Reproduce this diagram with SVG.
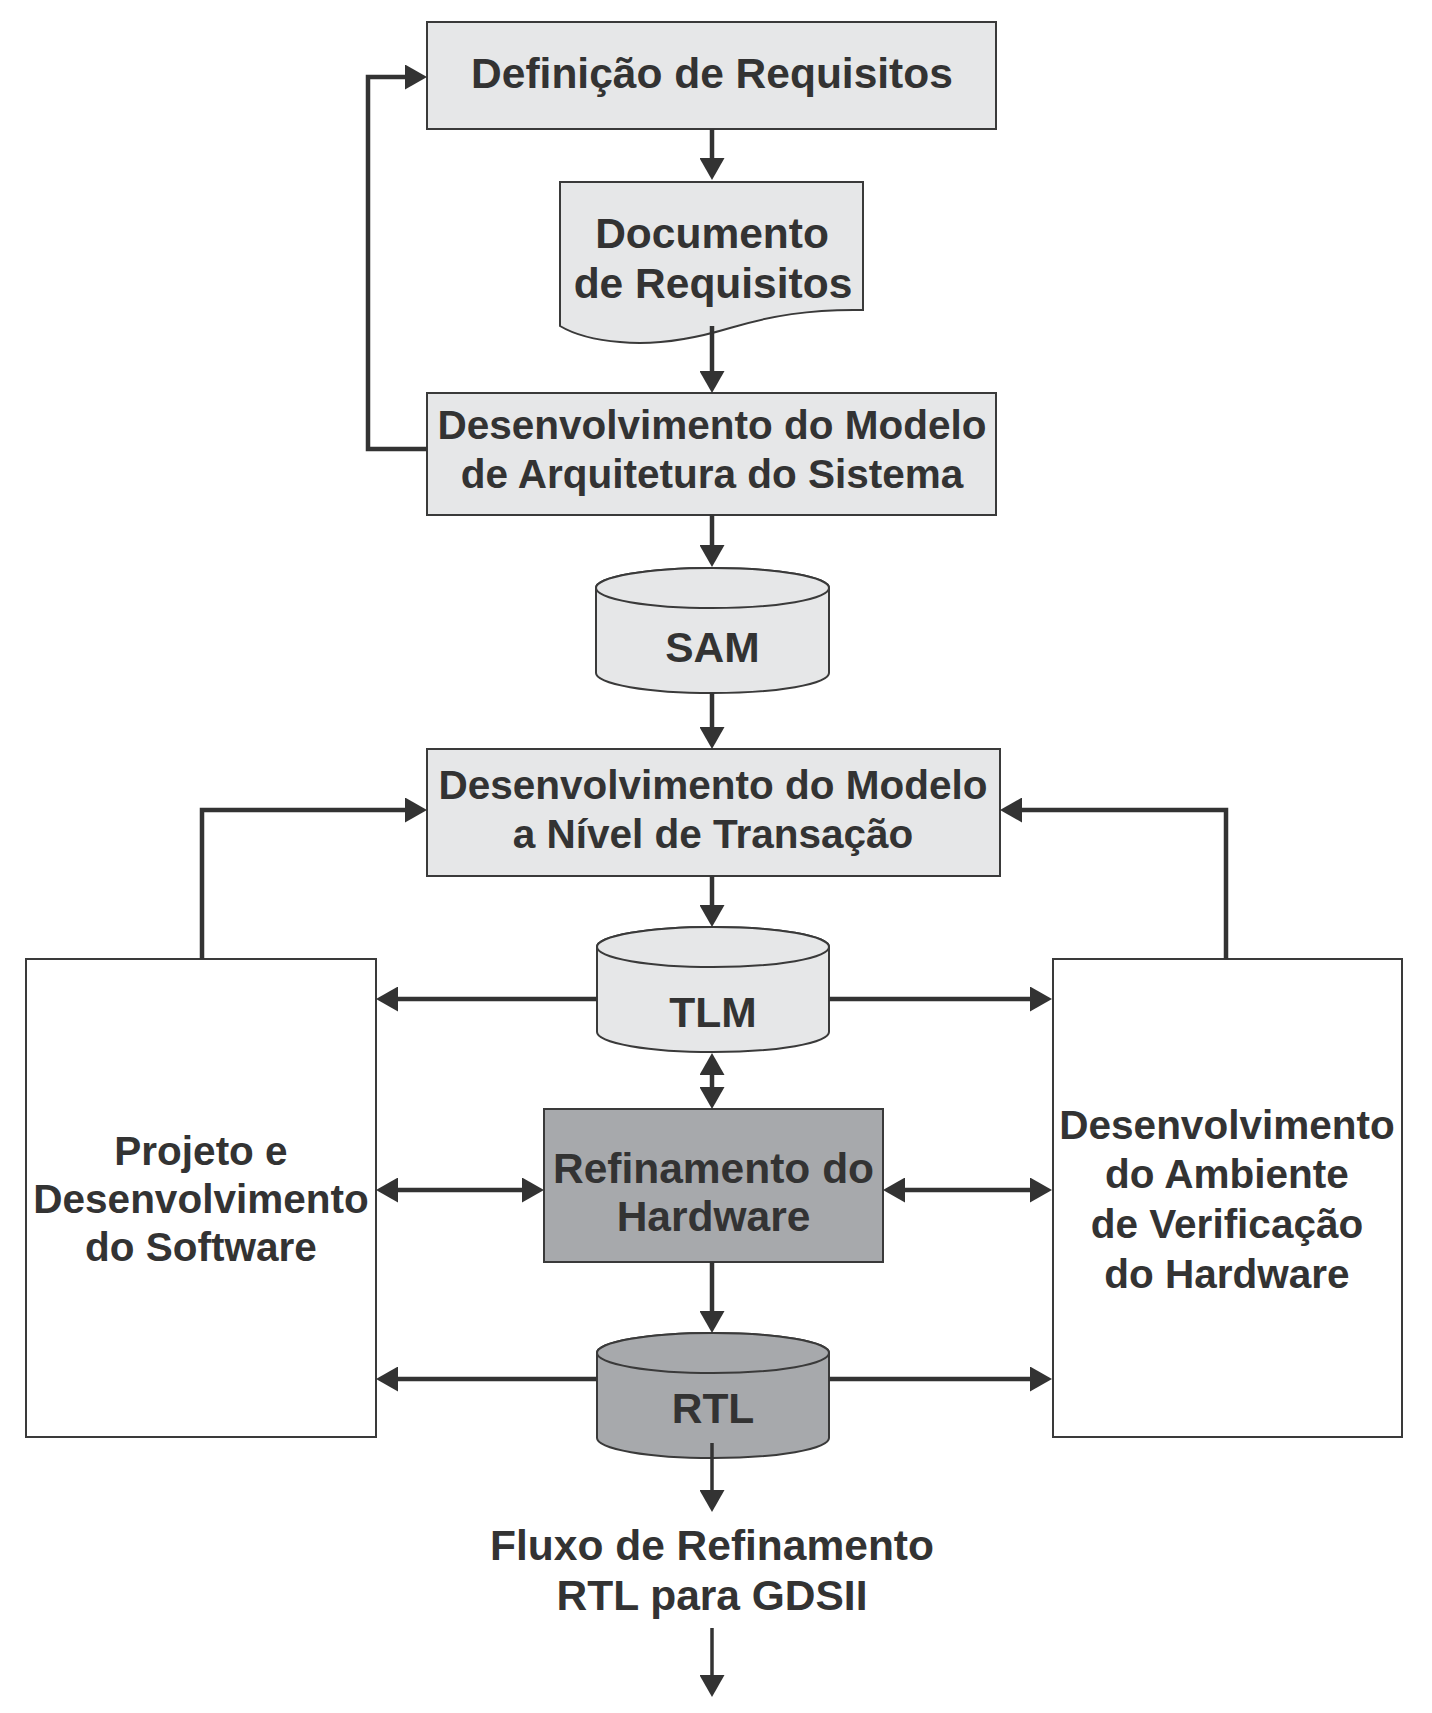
<svg xmlns="http://www.w3.org/2000/svg" width="1432" height="1713" viewBox="0 0 1432 1713">
<style>
.box{fill:#e6e7e8;stroke:#3a3a3a;stroke-width:2}
.dark{fill:#a7a9ac;stroke:#3a3a3a;stroke-width:2}
.white{fill:#ffffff;stroke:#3a3a3a;stroke-width:2}
.t{font-family:"Liberation Sans",Arial,sans-serif;font-weight:bold;fill:#333333;text-anchor:middle}
.big{font-size:42.5px}
.sm{font-size:40.5px}
.c{fill:none;stroke:#333333;stroke-width:4.5}
.c.thin{stroke-width:3.5}
</style>
<defs>
<marker id="ah" markerUnits="userSpaceOnUse" markerWidth="22" markerHeight="25" viewBox="0 0 22 25" refX="16" refY="12.5" orient="auto-start-reverse">
<path d="M0,0 L22,12.5 L0,25 Z" fill="#333333"/>
</marker>
</defs>
<rect width="1432" height="1713" fill="#ffffff"/>

<g id="definicao">
<rect class="box" x="427" y="22" width="569" height="107"/>
<text class="t big" x="712" y="88">Definição de Requisitos</text>
</g>

<g id="documento">
<path class="box" d="M560,182 H863 V310 C810,309 770,316 730,328 C690,340 650,345 620,342 C595,340 575,335 560,326 Z"/>
<text class="t big" x="712" y="248">Documento</text>
<text class="t big" x="713" y="298">de Requisitos</text>
</g>

<g id="arquitetura">
<rect class="box" x="427" y="393" width="569" height="122"/>
<text class="t sm" x="712" y="439">Desenvolvimento do Modelo</text>
<text class="t sm" x="712" y="488">de Arquitetura do Sistema</text>
</g>

<g id="sam">
<path class="box" d="M596,588 V673 A116.5,20 0 0 0 829,673 V588 A116.5,20 0 0 0 596,588 Z"/>
<ellipse class="box" cx="712.5" cy="588" rx="116.5" ry="20"/>
<text class="t big" x="712.5" y="662">SAM</text>
</g>

<g id="transacao">
<rect class="box" x="427" y="749" width="573" height="127"/>
<text class="t sm" x="713" y="799">Desenvolvimento do Modelo</text>
<text class="t sm" x="713" y="848">a Nível de Transação</text>
</g>

<g id="tlm">
<path class="box" d="M597,947 V1032 A116,20 0 0 0 829,1032 V947 A116,20 0 0 0 597,947 Z"/>
<ellipse class="box" cx="713" cy="947" rx="116" ry="20"/>
<text class="t big" x="713" y="1027">TLM</text>
</g>

<g id="software">
<rect class="white" x="26" y="959" width="350" height="478"/>
<text class="t sm" x="201" y="1165">Projeto e</text>
<text class="t sm" x="201" y="1213">Desenvolvimento</text>
<text class="t sm" x="201" y="1261">do Software</text>
</g>

<g id="refinamento">
<rect class="dark" x="544" y="1109" width="339" height="153"/>
<text class="t big" x="713.5" y="1183">Refinamento do</text>
<text class="t big" x="713.5" y="1231">Hardware</text>
</g>

<g id="verificacao">
<rect class="white" x="1053" y="959" width="349" height="478"/>
<text class="t sm" x="1227" y="1139">Desenvolvimento</text>
<text class="t sm" x="1227" y="1188">do Ambiente</text>
<text class="t sm" x="1227" y="1238">de Verificação</text>
<text class="t sm" x="1227" y="1288">do Hardware</text>
</g>

<g id="rtl">
<path class="dark" d="M597,1353 V1438 A116,20 0 0 0 829,1438 V1353 A116,20 0 0 0 597,1353 Z"/>
<ellipse class="dark" cx="713" cy="1353" rx="116" ry="20"/>
<text class="t big" x="713" y="1423">RTL</text>
</g>

<g id="fluxo">
<text class="t big" x="712" y="1560">Fluxo de Refinamento</text>
<text class="t big" x="712" y="1610">RTL para GDSII</text>
</g>

<g id="connectors">
<path class="c" d="M712,129 V174" marker-end="url(#ah)"/>
<path class="c" d="M712,326 V387" marker-end="url(#ah)"/>
<path class="c" d="M712,515 V561" marker-end="url(#ah)"/>
<path class="c" d="M712,693 V743" marker-end="url(#ah)"/>
<path class="c" d="M712,876 V921" marker-end="url(#ah)"/>
<path class="c" d="M427,449 H368 V77 H421" marker-end="url(#ah)"/>
<path class="c" d="M202,959 V810 H421" marker-end="url(#ah)"/>
<path class="c" d="M1226,959 V810 H1006" marker-end="url(#ah)"/>
<path class="c" d="M597,999 H382" marker-end="url(#ah)"/>
<path class="c" d="M829,999 H1046" marker-end="url(#ah)"/>
<path class="c" d="M712,1059 V1103" marker-start="url(#ah)" marker-end="url(#ah)"/>
<path class="c" d="M382,1190 H538" marker-start="url(#ah)" marker-end="url(#ah)"/>
<path class="c" d="M889,1190 H1046" marker-start="url(#ah)" marker-end="url(#ah)"/>
<path class="c" d="M712,1262 V1327" marker-end="url(#ah)"/>
<path class="c" d="M597,1379 H382" marker-end="url(#ah)"/>
<path class="c" d="M829,1379 H1046" marker-end="url(#ah)"/>
<path class="c thin" d="M712,1443 V1506" marker-end="url(#ah)"/>
<path class="c thin" d="M712,1628 V1691" marker-end="url(#ah)"/>
</g>
</svg>
